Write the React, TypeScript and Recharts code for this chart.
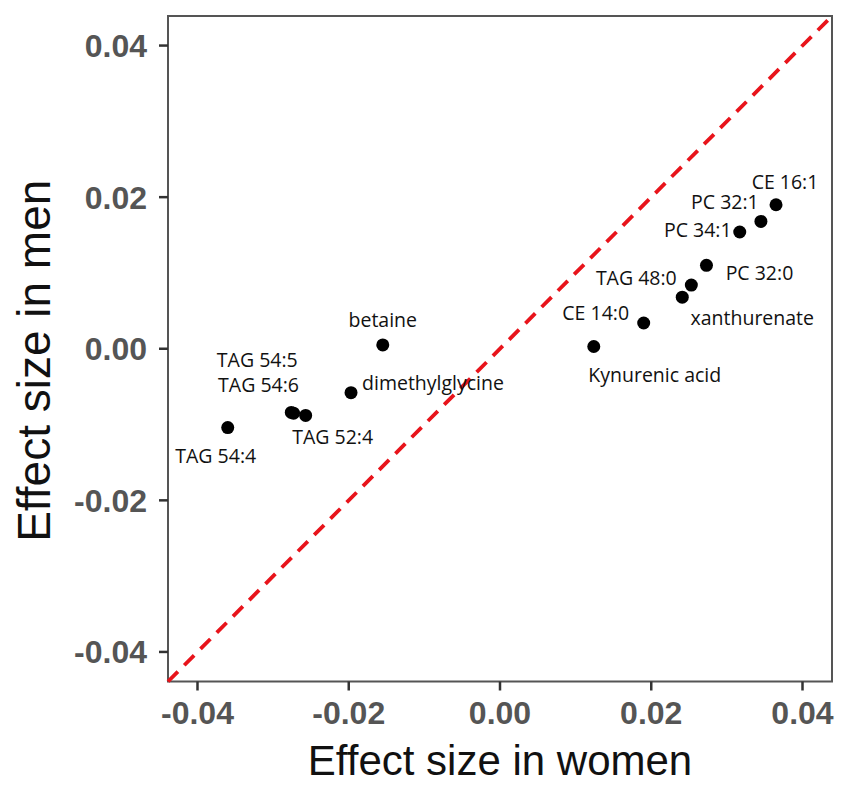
import React from 'react';
import { ScatterChart, Scatter, XAxis, YAxis, ReferenceLine, ReferenceArea, Label } from 'recharts';

const names = [
  'CE 16:1', 'PC 32:1', 'PC 34:1', 'PC 32:0', 'TAG 48:0', 'xanthurenate', 'CE 14:0',
  'Kynurenic acid', 'betaine', 'dimethylglycine', 'TAG 54:5', 'TAG 54:6', 'TAG 52:4', 'TAG 54:4',
];
const women = [0.0365, 0.0345, 0.0317, 0.0273, 0.0253, 0.0241, 0.019, 0.0124, -0.0155, -0.0197, -0.0276, -0.0273, -0.0257, -0.036];
const men = [0.019, 0.0168, 0.0154, 0.011, 0.0084, 0.0068, 0.0034, 0.0003, 0.0005, -0.0058, -0.0084, -0.0085, -0.0088, -0.0104];
const ticks = [-0.04, -0.02, 0, 0.02, 0.04];
const LIM = 0.0439;

const data = names.map((name, i) => ({ name, x: women[i], y: men[i] }));

// label placement offsets (pixels) relative to each dot
const LABEL_OFFSETS: Record<string, [number, number]> = {
  'CE 16:1': [9, -23],
  'PC 32:1': [-36, -20],
  'PC 34:1': [-42, -3],
  'PC 32:0': [53, 7],
  'TAG 48:0': [-55, -8],
  'xanthurenate': [70, 20],
  'CE 14:0': [-48, -10],
  'Kynurenic acid': [61, 28],
  'betaine': [0, -25],
  'dimethylglycine': [82, -10],
  'TAG 54:5': [-34, -53],
  'TAG 54:6': [-35, -29],
  'TAG 52:4': [27, 21],
  'TAG 54:4': [-12, 28],
};

const tickStyle = { fontFamily: '"Liberation Sans", Arial, sans-serif', fontWeight: 700, fontSize: 32, fill: '#555555' };

const Dot = (props: any) => {
  const { cx, cy, payload } = props;
  const off = LABEL_OFFSETS[payload.name] || [0, -20];
  return (
    <g>
      <circle cx={cx} cy={cy} r={6.5} fill="#000" />
      <text
        x={cx + off[0]}
        y={cy + off[1]}
        textAnchor="middle"
        dominantBaseline="central"
        fontFamily='"Open Sans", sans-serif'
        fontSize={19.5}
        fill="#111"
      >
        {payload.name}
      </text>
    </g>
  );
};

const XTitle = (props: any) => {
  const vb = props.viewBox;
  return (
    <text x={vb.x + vb.width / 2} y={vb.y + 93.5} textAnchor="middle" fontFamily='"Liberation Sans", Arial, sans-serif' fontSize={42} fill="#111">
      Effect size in women
    </text>
  );
};

const YTitle = (props: any) => {
  const vb = props.viewBox;
  const x = vb.x + 42;
  const y = vb.y + vb.height / 2 + 12;
  return (
    <text x={x} y={y} transform={`rotate(-90, ${x}, ${y})`} textAnchor="middle" fontFamily='"Liberation Sans", Arial, sans-serif' fontSize={46} fill="#111">
      Effect size in men
    </text>
  );
};

export default function App() {
  return (
    <div style={{ background: '#fff' }}>
      <ScatterChart width={835} height={780} margin={{ top: 8, right: 11, bottom: 6.5, left: 0 }}>
        <XAxis
          type="number"
          dataKey="x"
          domain={[-LIM, LIM]}
          ticks={ticks}
          allowDataOverflow
          tickFormatter={(v: number) => v.toFixed(2)}
          axisLine={false}
          tickLine={{ stroke: '#333', strokeWidth: 2.5 }}
          tickSize={9}
          tickMargin={11}
          tick={tickStyle}
          height={100}
        >
          <Label content={XTitle} />
        </XAxis>
        <YAxis
          type="number"
          dataKey="y"
          domain={[-LIM, LIM]}
          ticks={ticks}
          allowDataOverflow
          tickFormatter={(v: number) => v.toFixed(2)}
          axisLine={false}
          tickLine={{ stroke: '#333', strokeWidth: 2.5 }}
          tickSize={9}
          tickMargin={12}
          tick={tickStyle}
          width={160}
        >
          <Label content={YTitle} />
        </YAxis>
        <ReferenceArea x1={-LIM} x2={LIM} y1={-LIM} y2={LIM} fill="none" stroke="#555" strokeWidth={2} ifOverflow="visible" />
        <ReferenceLine
          segment={[{ x: -LIM, y: -LIM }, { x: LIM, y: LIM }]}
          stroke="#e8141b"
          strokeWidth={3.8}
          strokeDasharray="14 9"
          ifOverflow="visible"
        />
        <Scatter data={data} shape={Dot} isAnimationActive={false} />
      </ScatterChart>
    </div>
  );
}
